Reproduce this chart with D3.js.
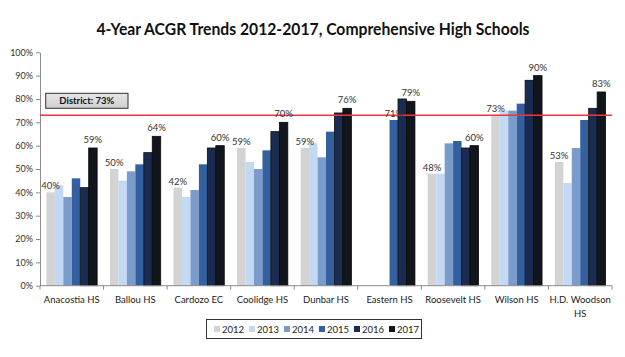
<!DOCTYPE html>
<html><head><meta charset="utf-8">
<script src="https://cdn.jsdelivr.net/npm/d3@7"></script>
<style>
body{margin:0;background:#fff;}
svg{display:block;font-family:Lato,"Open Sans",sans-serif;}
</style></head>
<body><svg id="c" width="625" height="357"></svg>
<script>
const categories = ["Anacostia HS","Ballou HS","Cardozo EC","Coolidge HS","Dunbar HS","Eastern HS","Roosevelt HS","Wilson HS","H.D. Woodson HS"];
const years = ["2012","2013","2014","2015","2016","2017"];
const v2012 = [40, 50, 42, 59, 59, null, 48, 73, 53];
const v2013 = [43, 45, 38, 53, 61, null, 48, 75, 44];
const v2014 = [38, 49, 41, 50, 55, null, 61, 75, 59];
const v2015 = [46, 52, 52, 58, 66, 71, 62, 78, 71];
const v2016 = [42, 57, 59, 66, 74, 80, 59, 88, 76];
const v2017 = [59, 64, 60, 70, 76, 79, 60, 90, 83];
const seriesValues = [v2012, v2013, v2014, v2015, v2016, v2017];
const labelFirst = [40, 50, 42, 59, 59, 71, 48, 73, 53];
const labelFirstYear = ["2012","2012","2012","2012","2012","2015","2012","2012","2012"];
const labelLast = [59, 64, 60, 70, 76, 79, 60, 90, 83];
const yTicks = [0,10,20,30,40,50,60,70,80,90,100];
const districtValue = 73;
const colors = ["#d3d3d3","#c3d8f2","#7b9bcb","#35609f","#1b2c52","#11151c"];

const svg = d3.select("#c");
const m = {l:40, r:612, t:52.3, b:285.7};

svg.append("text").attr("x",313).attr("y",35).attr("text-anchor","middle")
  .attr("font-weight","bold").attr("font-size",17).attr("fill","#111")
  .attr("textLength",433).attr("lengthAdjust","spacingAndGlyphs")
  .text("4-Year ACGR Trends 2012-2017, Comprehensive High Schools");

const x = d3.scaleBand().domain(categories).range([m.l,m.r]).padding(0);
const xs = d3.scaleBand().domain(years).range([6.4, x.bandwidth()-6.4]).padding(0);
const y = d3.scaleLinear().domain([0,100]).range([m.b,m.t]);

// y axis
const ya = svg.append("g").attr("transform",`translate(${m.l},0)`)
  .call(d3.axisLeft(y).tickValues(yTicks).tickFormat(d=>d+"%").tickSize(4).tickSizeOuter(0));
ya.select(".domain").attr("stroke","#8c8c8c");
ya.selectAll(".tick line").attr("stroke","#8c8c8c");
ya.selectAll(".tick text").attr("font-size",9).attr("fill","#333").attr("font-family","Lato,sans-serif").attr("x",-7);

// bars
const rows = [];
categories.forEach((c,i)=>years.forEach((yr,j)=>{
  const v = seriesValues[j][i];
  if(v!=null) rows.push({c,yr,v,j});
}));
svg.append("g").selectAll("rect").data(rows).join("rect")
  .attr("x",d=>x(d.c)+xs(d.yr)).attr("width",xs.bandwidth())
  .attr("y",d=>y(d.v)).attr("height",d=>y(0)-y(d.v))
  .attr("fill",d=>colors[d.j])
  .attr("stroke",d=>d.j>=4?"#0a0a0a":"none").attr("stroke-width",0.8);

// x axis
const xa = svg.append("g").attr("transform",`translate(0,${m.b})`);
xa.append("line").attr("x1",m.l).attr("x2",m.r).attr("stroke","#8c8c8c");
xa.selectAll("line.tk").data(d3.range(categories.length+1)).join("line").attr("class","tk")
  .attr("x1",i=>m.l+i*x.bandwidth()).attr("x2",i=>m.l+i*x.bandwidth())
  .attr("y1",0).attr("y2",4).attr("stroke","#8c8c8c");
const catLines = {"H.D. Woodson HS":["H.D. Woodson","HS"]};
const ct = svg.append("g");
categories.forEach(c=>{
  const lines = catLines[c]||[c];
  lines.forEach((ln,k)=>{
    ct.append("text").attr("x",x(c)+x.bandwidth()/2).attr("y",m.b+17+k*14)
      .attr("text-anchor","middle").attr("font-size",9.5).attr("fill","#222").text(ln);
  });
});

// district line
svg.append("line").attr("x1",m.l).attr("x2",m.r).attr("y1",y(districtValue)).attr("y2",y(districtValue))
  .attr("stroke","#f0333c").attr("stroke-width",1.4);
const grad = svg.append("defs").append("linearGradient").attr("id","g1").attr("x1",0).attr("x2",0).attr("y1",0).attr("y2",1);
grad.append("stop").attr("offset","0%").attr("stop-color","#e6e6e6");
grad.append("stop").attr("offset","100%").attr("stop-color","#cfcfcf");
svg.append("rect").attr("x",45.7).attr("y",93.3).attr("width",82.3).attr("height",15)
  .attr("fill","url(#g1)").attr("stroke","#333").attr("stroke-width",1);
svg.append("text").attr("x",86.8).attr("y",104.3).attr("text-anchor","middle")
  .attr("font-size",9.5).attr("font-weight","bold").attr("fill","#111").text("District: "+districtValue+"%");

// value labels
const lab = svg.append("g");
categories.forEach((c,i)=>{
  const f = labelFirstYear[i];
  const fv = seriesValues[years.indexOf(f)][i];
  lab.append("text").attr("x",x(c)+xs(f)+xs.bandwidth()/2).attr("y",y(fv)-3)
    .attr("text-anchor","middle").attr("font-size",9.5).attr("fill","#333").text(labelFirst[i]+"%");
  lab.append("text").attr("x",x(c)+xs("2017")+xs.bandwidth()/2).attr("y",y(v2017[i])-5)
    .attr("text-anchor","middle").attr("font-size",9.5).attr("fill","#333").text(labelLast[i]+"%");
});

// legend
const lg = svg.append("g");
lg.append("rect").attr("x",206.5).attr("y",319.5).attr("width",215).attr("height",19)
  .attr("fill","#fff").attr("stroke","#333").attr("stroke-width",1);
const lx = d3.scalePoint().domain(years).range([214,389]);
years.forEach((yr,j)=>{
  lg.append("rect").attr("x",lx(yr)).attr("y",326).attr("width",6).attr("height",6).attr("fill",colors[j]);
  lg.append("text").attr("x",lx(yr)+8).attr("y",332.5).attr("font-size",9.5).attr("fill","#222").text(yr);
});
</script></body></html>
